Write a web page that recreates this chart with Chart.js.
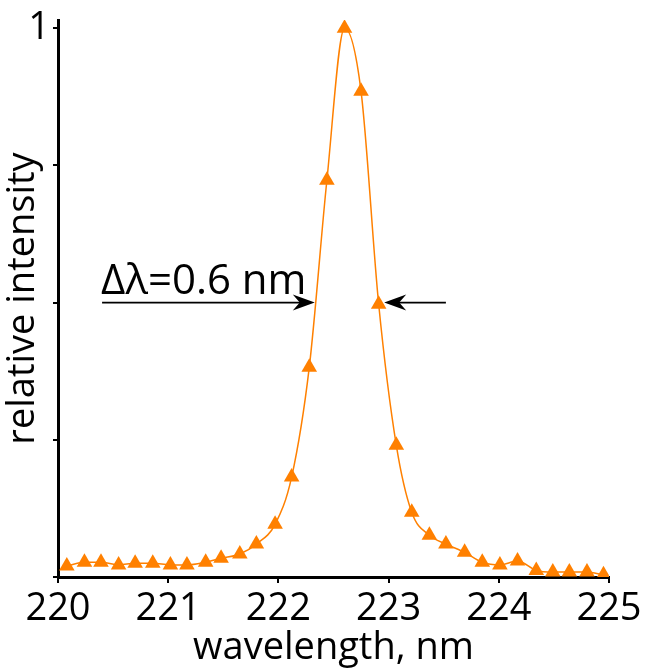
<!DOCTYPE html>
<html>
<head>
<meta charset="utf-8">
<script src="https://cdn.jsdelivr.net/npm/chart.js@4.4.1/dist/chart.umd.min.js"></script>
<style>
  html, body { margin: 0; padding: 0; background: #fff; }
  #wrap { width: 645px; height: 671px; }
</style>
</head>
<body>
<div id="wrap"><canvas id="lineChart" width="645" height="671"></canvas></div>
<script>
// Measured spectrum (wavelength in nm, normalised intensity)
const wavelengths = [
  220.08, 220.24, 220.39, 220.55, 220.70, 220.86, 221.02, 221.17,
  221.34, 221.48, 221.65, 221.80, 221.97, 222.12, 222.28, 222.44,
  222.60, 222.75, 222.91, 223.07, 223.21, 223.37, 223.52, 223.69,
  223.85, 224.01, 224.17, 224.34, 224.49, 224.64, 224.80, 224.95
];
const intensity = [
  0.020, 0.027, 0.027, 0.022, 0.025, 0.025, 0.022, 0.022,
  0.027, 0.034, 0.042, 0.060, 0.096, 0.182, 0.382, 0.723,
  1.000, 0.885, 0.497, 0.240, 0.118, 0.076, 0.060, 0.045,
  0.027, 0.022, 0.029, 0.012, 0.009, 0.009, 0.009, 0.004
];
const xTickValues = [220, 221, 222, 223, 224, 225];
const yTickValues = [0, 0.25, 0.5, 0.75, 1];

// half-maximum marker
const fwhmLabel = "Δλ=0.6 nm";
const halfMax = 0.5;
const leftArrow = [220.40, 222.33];   // tail, tip
const rightArrow = [223.52, 222.96];  // tail, tip

const orange = "#ff8000";
const fontFamily = "'Open Sans', 'Noto Sans', sans-serif";

function drawArrow(ctx, x1, y, x2) {
  const dir = Math.sign(x2 - x1);
  ctx.beginPath();
  ctx.moveTo(x1, y);
  ctx.lineTo(x2 - dir * 10, y);
  ctx.stroke();
  // filled barbed head
  ctx.beginPath();
  ctx.moveTo(x2, y);
  ctx.lineTo(x2 - dir * 22, y - 8);
  ctx.lineTo(x2 - dir * 15, y);
  ctx.lineTo(x2 - dir * 22, y + 8);
  ctx.closePath();
  ctx.fill();
}

const fwhmPlugin = {
  id: "fwhm",
  afterDatasetsDraw(chart) {
    const { ctx, scales } = chart;
    const xs = scales.x, ys = scales.y;
    const y = ys.getPixelForValue(halfMax);
    ctx.save();
    ctx.strokeStyle = "#000";
    ctx.fillStyle = "#000";
    ctx.lineWidth = 1.8;
    drawArrow(ctx, xs.getPixelForValue(leftArrow[0]), y, xs.getPixelForValue(leftArrow[1]));
    drawArrow(ctx, xs.getPixelForValue(rightArrow[0]), y, xs.getPixelForValue(rightArrow[1]));
    ctx.font = "42px " + fontFamily;
    ctx.textAlign = "left";
    ctx.textBaseline = "alphabetic";
    ctx.fillText(fwhmLabel, xs.getPixelForValue(leftArrow[0]) - 1, y - 9);
    ctx.restore();
  }
};

const ctx = document.getElementById("lineChart").getContext("2d");
new Chart(ctx, {
  type: "scatter",
  data: {
    datasets: [
      {
        data: wavelengths.map((w, i) => ({ x: w, y: intensity[i] })),
        showLine: true,
        borderColor: orange,
        borderWidth: 1.5,
        cubicInterpolationMode: "monotone",
        pointStyle: "triangle",
        pointRadius: 9,
        pointBackgroundColor: orange,
        pointBorderColor: orange,
        pointBorderWidth: 0,
      },
    ],
  },
  options: {
    responsive: false,
    animation: false,
    layout: { padding: { top: 20, right: 36, left: 0, bottom: 0 } },
    plugins: {
      legend: { display: false },
      tooltip: { enabled: false },
    },
    scales: {
      x: {
        type: "linear",
        min: 220,
        max: 225,
        afterBuildTicks: (scale) => {
          scale.ticks = xTickValues.map((v) => ({ value: v }));
        },
        afterFit: (scale) => {
          scale.height = 94;
          scale.paddingLeft = 0;
          scale.paddingRight = 0;
        },
        border: { display: true, color: "#000", width: 3 },
        grid: { drawOnChartArea: false, drawTicks: true, tickLength: 6, color: "#000", lineWidth: 2 },
        ticks: {
          color: "#000",
          font: { family: fontFamily, size: 38 },
          padding: 3,
          maxRotation: 0,
        },
        title: {
          display: true,
          text: "wavelength, nm",
          color: "#000",
          font: { family: fontFamily, size: 38 },
          padding: { top: -2, bottom: 0 },
        },
      },
      y: {
        type: "linear",
        min: 0,
        max: 1.015,
        afterBuildTicks: (scale) => {
          scale.ticks = yTickValues.map((v) => ({ value: v }));
        },
        afterFit: (scale) => {
          scale.width = 58;
          scale.paddingTop = 0;
          scale.paddingBottom = 0;
        },
        border: { display: true, color: "#000", width: 3 },
        grid: { drawOnChartArea: false, drawTicks: true, tickLength: 5, color: "#000", lineWidth: 2 },
        ticks: {
          color: "#000",
          font: { family: fontFamily, size: 38 },
          padding: 3,
          callback: (v) => (v === 1 ? "1" : ""),
        },
        title: {
          display: true,
          text: "relative intensity",
          color: "#000",
          font: { family: fontFamily, size: 38 },
          padding: { top: 0, bottom: 0 },
        },
      },
    },
  },
  plugins: [fwhmPlugin],
});
</script>
</body>
</html>
